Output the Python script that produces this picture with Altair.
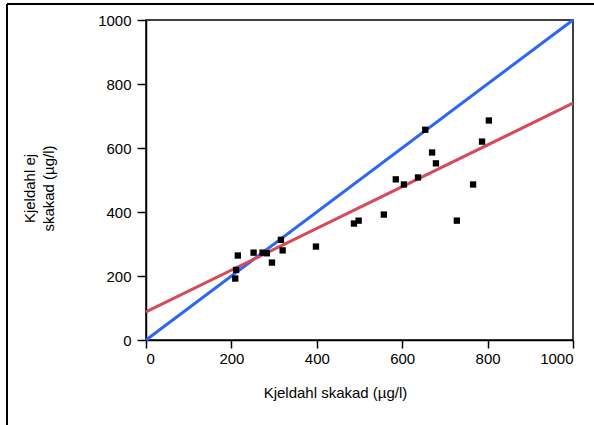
import altair as alt
import pandas as pd

# measured points
xs = [209, 211, 215, 252, 273, 283, 295, 316, 320, 398,
      487, 498, 557, 585, 604, 637, 654, 670, 679, 728, 766, 787, 803]
ys = [192, 219, 264, 273, 273, 271, 242, 313, 280, 292,
      364, 373, 392, 502, 486, 508, 657, 586, 552, 373, 486, 620, 686]

line_x = [0, 1000]
blue_y = [0, 1000]
red_y = [88, 740]

pts = pd.DataFrame({"x": xs, "y": ys})
blue = pd.DataFrame({"x": line_x, "y": blue_y})
red = pd.DataFrame({"x": line_x, "y": red_y})

FONT = "Liberation Sans"
xscale = alt.Scale(domain=[0, 1000], nice=False)
yscale = alt.Scale(domain=[0, 1000], nice=False)

xenc = alt.X("x:Q", scale=xscale,
             axis=alt.Axis(title="Kjeldahl skakad (µg/l)", values=[0, 200, 400, 600, 800, 1000],
                           format="d",
                           grid=False, tickSize=8, tickWidth=1.5, domainWidth=1.5,
                           domainColor="black", tickColor="black", labelColor="black",
                           labelFont=FONT, labelFontSize=15, labelPadding=3,
                           titleFont=FONT, titleFontSize=15, titleFontWeight="normal",
                           titleColor="black", titleX=189, titleY=52, titleBaseline="middle"))
yenc = alt.Y("y:Q", scale=yscale,
             axis=alt.Axis(title=["Kjeldahl ej", "skakad (µg/l)"], values=[0, 200, 400, 600, 800, 1000],
                           format="d",
                           grid=False, tickSize=9, tickWidth=1.5, domainWidth=1.5,
                           domainColor="black", tickColor="black", labelColor="black",
                           labelFont=FONT, labelFontSize=15, labelPadding=6,
                           titleFont=FONT, titleFontSize=15, titleFontWeight="normal",
                           titleColor="black", titleAngle=-90, titleAlign="center",
                           titleBaseline="alphabetic", titleLineHeight=19,
                           titleX=-112, titleY=168))

blue_l = alt.Chart(blue).mark_line(color="#2b66f6", strokeWidth=3).encode(x=xenc, y=yenc)
red_l = alt.Chart(red).mark_line(color="#d64a5a", strokeWidth=3).encode(x="x:Q", y="y:Q")
sq = alt.Chart(pts).mark_square(color="black", size=40, opacity=1).encode(x="x:Q", y="y:Q")

left_border = alt.Chart(pts).mark_rule(color="black", strokeWidth=2).encode(
    x=alt.value(-139), y=alt.value(-16), y2=alt.value(410))
top_border = alt.Chart(pts).mark_rule(color="black", strokeWidth=2).encode(
    x=alt.value(-139), x2=alt.value(450), y=alt.value(-16))

chart = alt.layer(blue_l, red_l, sq, left_border, top_border).properties(
    width=427, height=320,
    autosize=alt.AutoSizeParams(type="none"),
    padding={"left": 146, "top": 20, "right": 21, "bottom": 85},
    background="white",
).configure_view(stroke="black", strokeWidth=1.5)

chart.save("out.html", embed_options={"renderer": "svg", "actions": False})
